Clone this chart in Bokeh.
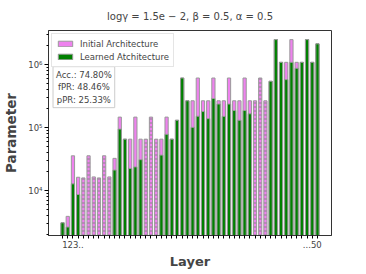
from bokeh.plotting import figure
from bokeh.models import ColumnDataSource, FixedTicker, Range1d, Legend, LegendItem, Label, Title
from bokeh.embed import file_html
from bokeh.resources import INLINE

layers = list(range(1, 51))
initial = [3080, 3900, 35700, 16300, 15900, 35700, 16500, 15900, 35700, 16500,
           32500, 147000, 65600, 65600, 147000, 65600, 65600, 147000, 65600, 65600,
           147000, 65600, 131000, 614000, 267000, 267000, 614000, 267000, 267000, 614000,
           267000, 267000, 614000, 267000, 267000, 614000, 267000, 267000, 614000, 267000,
           545000, 2500000, 1090000, 1090000, 2500000, 1090000, 1090000, 2500000, 1090000, 2140000]
learned = [3080, 2640, 12800, 8670, 0, 0, 0, 0, 0, 0,
           21200, 94800, 65600, 22500, 23800, 31000, 0, 0, 0, 36600,
           78400, 65600, 131000, 614000, 267000, 101000, 152000, 180000, 139000, 290000,
           237000, 151000, 237000, 187000, 131000, 187000, 166000, 0, 0, 0,
           545000, 2500000, 1090000, 579000, 1090000, 877000, 1090000, 2500000, 1090000, 2140000]
stats_text = "Acc.: 74.80%\nfPR: 48.46%\npPR: 25.33%"
title_text = "log\u03b3 = 1.5e \u2212 2, \u03b2 = 0.5, \u03b1 = 0.5"
y_major = [1e4, 1e5, 1e6]
y_major_labels = ["10\u2074", "10\u2075", "10\u2076"]
x_label_first = "123.."
x_label_last = "...50"

FONT = "DejaVu Sans"
EDGE = "#9a9a9a"

src_init = ColumnDataSource(dict(
    x=layers, top=initial,
    hatch=["horizontal_line" if l == 0 else "blank" for l in learned]))
lx = [x for x, l in zip(layers, learned) if l > 0]
ly = [l for l in learned if l > 0]
src_learn = ColumnDataSource(dict(x=lx, top=ly))

p = figure(frame_width=283, frame_height=205, y_axis_type="log",
           x_range=Range1d(-1.7, 52.7), y_range=Range1d(1936, 3.49e6),
           output_backend="svg", toolbar_location=None,
           min_border_left=38, min_border_right=29, min_border_top=30, min_border_bottom=0)

r1 = p.vbar(x="x", top="top", bottom=1, width=0.62, source=src_init,
            fill_color="violet", line_color=EDGE, line_width=1,
            hatch_pattern="hatch", hatch_color="#888888", hatch_scale=4, hatch_weight=1)
r2 = p.vbar(x="x", top="top", bottom=1, width=0.62, source=src_learn,
            fill_color="green", line_color=EDGE, line_width=1)

p.title.text = title_text
p.title.align = "center"
p.title.text_font = FONT
p.title.text_font_size = "10px"
p.title.text_font_style = "normal"
p.title.standoff = 2
# small empty spacer above the title to push it a few pixels down
p.add_layout(Title(text=" ", text_font_size="5px", standoff=0), "above")

p.grid.visible = False
p.outline_line_color = "#333333"
p.outline_line_width = 1

xa = p.xaxis[0]
xa.ticker = FixedTicker(ticks=layers)
ov = {i: "" for i in layers}
ov[3] = x_label_first
ov[49] = x_label_last
xa.major_label_overrides = ov
xa.major_tick_out = 3
xa.major_tick_in = 0
xa.minor_tick_out = 0
xa.major_label_standoff = 2
xa.major_label_text_font = FONT
xa.major_label_text_font_size = "8.5px"
xa.axis_label = "Layer"
xa.axis_label_text_font = FONT
xa.axis_label_text_font_style = "bold"
xa.axis_label_text_font_size = "13px"
xa.axis_label_standoff = 3
xa.axis_line_color = "#333333"

ya = p.yaxis[0]
minors = []
for d in [1e3, 1e4, 1e5, 1e6]:
    minors += [k * d for k in range(2, 10)]
ya.ticker = FixedTicker(ticks=y_major, minor_ticks=minors)
ya.major_label_overrides = {t: s for t, s in zip(y_major, y_major_labels)}
ya.major_tick_out = 4
ya.major_tick_in = 0
ya.minor_tick_out = 2
ya.minor_tick_in = 0
ya.major_label_standoff = 2
ya.major_label_text_font = FONT
ya.major_label_text_font_size = "8.5px"
ya.axis_label = "Parameter"
ya.axis_label_text_font = FONT
ya.axis_label_text_font_style = "bold"
ya.axis_label_text_font_size = "13.5px"
ya.axis_label_standoff = 6
ya.axis_line_color = "#333333"

legend = Legend(items=[LegendItem(label="Initial Architecture", renderers=[r1], index=0),
                       LegendItem(label="Learned Atchitecture", renderers=[r2])],
                location="top_left")
legend.label_text_font = FONT
legend.label_text_font_size = "8.5px"
legend.glyph_width = 18
legend.glyph_height = 7
legend.label_height = 11
legend.spacing = 2
legend.padding = 4
legend.margin = 3
legend.label_standoff = 6
legend.border_line_color = "#cccccc"
legend.background_fill_alpha = 0.9
p.add_layout(legend)

lab = Label(x=5.1, y=9.3e5, text=stats_text, text_align="center", text_baseline="top",
            text_font=FONT, text_font_size="8.5px", text_line_height=1.25,
            border_line_color="#cccccc", background_fill_color="white", padding=3)
p.add_layout(lab)

open("out.html", "w").write(file_html(p, INLINE))
